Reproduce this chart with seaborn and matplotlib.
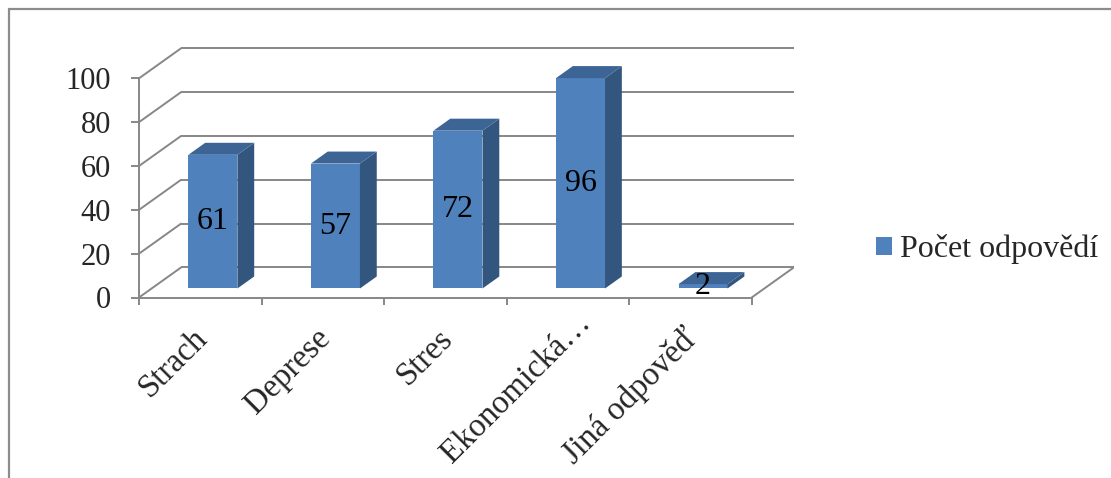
import matplotlib
matplotlib.use("Agg")
import matplotlib.pyplot as plt
import matplotlib.transforms as mtransforms
from matplotlib.patches import Polygon
from matplotlib.lines import Line2D
import seaborn as sns

# Responses per category
categories = ["Strach", "Deprese", "Stres", "Ekonomická…", "Jiná odpověď"]
values = [61, 57, 72, 96, 2]
series_name = "Počet odpovědí"
y_ticks = [0, 20, 40, 60, 80, 100]

sns.set_theme(style="white")
plt.rcParams["font.family"] = ["Liberation Serif", "DejaVu Serif"]

FRONT = "#4F81BD"
TOP = "#3C6595"
SIDE = "#33567F"
GRID = "#878787"
LW = 1.4

fig = plt.figure(figsize=(11.11, 4.78), dpi=100)
ax = fig.add_axes([139 / 1111, 180.5 / 478, 655 / 1111, 250.5 / 478])

sns.barplot(x=categories, y=values, width=0.4, color=FRONT, saturation=1,
            label=series_name, ax=ax, zorder=3, linewidth=0)

# oblique depth vector (data units) for the pseudo-3D box
DX, DY = 0.343, 13.7
f0, f1 = 0.30, 0.70          # bar front / back depth fractions
n = len(categories)
xmin, xmax = -0.5, n - 0.5

ax.set_xlim(xmin, xmax + DX + 0.002)
ax.set_ylim(0, 100 + DY + 0.6)

# back wall and left wall gridlines
for v in y_ticks:
    ax.plot([xmin + DX, xmax + DX], [v + DY, v + DY], color=GRID, lw=LW, zorder=1,
            solid_capstyle="butt")
    ax.plot([xmin, xmin + DX], [v, v + DY], color=GRID, lw=LW, zorder=1)
# floor right edge
ax.plot([xmax, xmax + DX], [0, DY], color=GRID, lw=LW, zorder=1)

# move front faces into depth and add side / top faces
shift = mtransforms.Affine2D().translate(f0 * DX, f0 * DY)
sx, sy = (f1 - f0) * DX, (f1 - f0) * DY
for p, val in zip(ax.patches, values):
    p.set_transform(shift + ax.transData)
    xl = p.get_x() + f0 * DX
    xr = xl + p.get_width()
    yb = f0 * DY
    yt = p.get_height() + f0 * DY
    ax.add_patch(Polygon([(xr, yb), (xr + sx, yb + sy), (xr + sx, yt + sy), (xr, yt)],
                         closed=True, facecolor=SIDE, edgecolor="none", zorder=3))
    ax.add_patch(Polygon([(xl, yt), (xr, yt), (xr + sx, yt + sy), (xl + sx, yt + sy)],
                         closed=True, facecolor=TOP, edgecolor="none", zorder=3))
    ax.text((xl + xr) / 2, (yb + yt) / 2, f"{val}", ha="center", va="center",
            fontsize=23, color="black", zorder=5)

# axes lines
for s in ["top", "right"]:
    ax.spines[s].set_visible(False)
ax.spines["left"].set_bounds(0, 100)
ax.spines["bottom"].set_bounds(xmin, xmax)
for s in ["left", "bottom"]:
    ax.spines[s].set_color(GRID)
    ax.spines[s].set_linewidth(LW)
    ax.spines[s].set_zorder(2)

ax.set_yticks(y_ticks)
ax.set_yticklabels([str(t) for t in y_ticks])
ax.tick_params(axis="y", length=6, width=LW, color=GRID, pad=14, labelsize=22,
               left=True, direction="out")

ax.set_xticks(range(n))
ax.set_xticklabels(categories)
ax.set_xticks([i - 0.5 for i in range(n + 1)], minor=True)
ax.tick_params(axis="x", which="major", length=0, pad=26, labelsize=23.5)
ax.tick_params(axis="x", which="minor", length=5, width=LW, color=GRID,
               bottom=True, direction="out")
for lab in ax.get_xticklabels():
    # truncated labels sit further along their slant
    along = 22 if lab.get_text().endswith("…") else 0
    dx_px = 3 + along * 0.7071
    dy_px = along * 0.7071
    lab.set_rotation(45)
    lab.set_ha("right")
    lab.set_va("center")
    lab.set_rotation_mode("anchor")
    lab.set_transform(lab.get_transform() + mtransforms.ScaledTranslation(
        dx_px / 100, dy_px / 100, fig.dpi_scale_trans))
ax.set_xlabel("")
ax.set_ylabel("")
ax.grid(False)

leg = ax.legend(loc="center left", bbox_to_anchor=(876 / 1111, 1 - 249 / 478),
                bbox_transform=fig.transFigure, frameon=False, fontsize=23,
                handlelength=0.5, handleheight=0.5, handletextpad=0.25,
                borderpad=0, borderaxespad=0)

# chart-area border
fig.add_artist(Line2D([9 / 1111, 1], [1 - 9 / 478, 1 - 9 / 478], color="#8C8C8C",
                      lw=1.6, transform=fig.transFigure))
fig.add_artist(Line2D([9 / 1111, 9 / 1111], [0, 1 - 9 / 478], color="#8C8C8C",
                      lw=1.6, transform=fig.transFigure))

fig.savefig("out.png", dpi=100)
